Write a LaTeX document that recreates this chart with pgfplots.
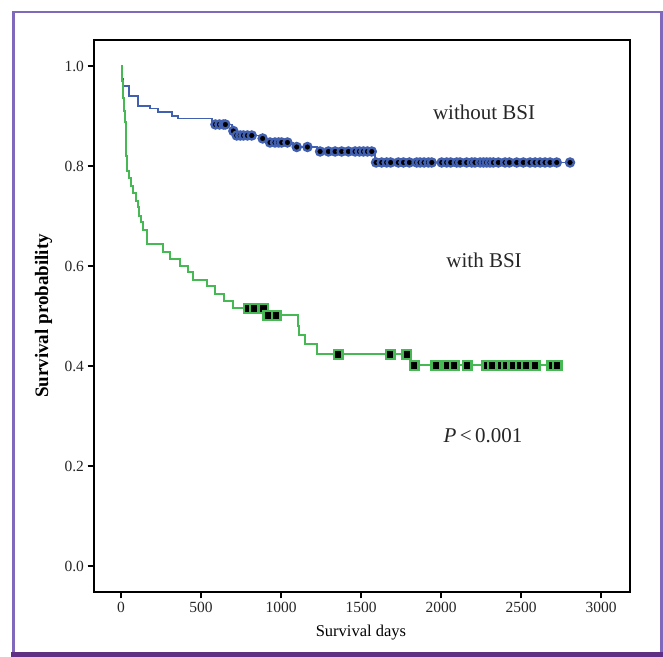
\documentclass[border=0pt]{standalone}
\usepackage{pgfplots}
\pgfplotsset{compat=1.18}
\usepackage{fontspec}
\setmainfont{Liberation Serif}
\definecolor{kmblue}{RGB}{66,96,176}
\definecolor{kmgreen}{RGB}{70,185,85}
\definecolor{frameL}{RGB}{128,104,186}
\definecolor{frameD}{RGB}{94,47,130}

\begin{document}
\begin{tikzpicture}[x=1bp,y=1bp]
\useasboundingbox (0,0) rectangle (663,657);
% outer frame
\fill[frameD] (11,0) rectangle (663,5);
\draw[frameL, line width=2.5bp] (13.5,5) -- (13.5,645) -- (661.5,645) -- (661.5,5);

\begin{axis}[
    at={(94bp,65bp)}, anchor=south west,
    width=536bp, height=552bp, scale only axis,
    xmin=-169, xmax=3181,
    ymin=-0.052, ymax=1.052,
    axis line style={line width=1.6bp},
    tick pos=left, tick align=outside,
    major tick length=6.5bp,
    every tick/.style={black, line width=1.6bp},
    xtick={0,500,1000,1500,2000,2500,3000},
    ytick={0,0.2,0.4,0.6,0.8,1.0},
    yticklabel style={/pgf/number format/.cd, fixed, fixed zerofill, precision=1},
    /pgf/number format/assume math mode=true,
    scaled x ticks=false,
    xticklabel style={/pgf/number format/1000 sep={}},
    tick label style={font=\fontsize{15.5bp}{18bp}\selectfont, text=black!85},
    xlabel={Survival days},
    ylabel={\textbf{Survival probability}},
    xlabel style={at={(axis description cs:0.498,-0.074)}, anchor=center,
        font=\fontsize{16.5bp}{19bp}\selectfont},
    ylabel style={at={(axis description cs:-0.094,0.5)}, anchor=center, rotate=0,
        font=\fontsize{19bp}{22bp}\selectfont},
    clip=false,
]
% without BSI
\addplot[const plot, kmblue, line width=1.8bp] coordinates {
(0,1.0) (5,0.975) (15,0.96) (52,0.94) (108,0.92) (181,0.915) (233,0.908)
(317,0.900) (358,0.895) (567,0.883) (692,0.870) (712,0.861) (879,0.855)
(942,0.847) (1077,0.838) (1223,0.829) (1588,0.807) (2806,0.807)
};
\addplot[only marks, mark=*, mark size=4bp,
    mark options={fill=black, draw=kmblue, line width=2.4bp}] coordinates {
(590,0.883) (615,0.883) (640,0.883) (652,0.883)
(702,0.870)
(723,0.861) (745,0.861) (765,0.861) (790,0.861) (817,0.861)
(885,0.855)
(931,0.847) (962,0.847) (985,0.847) (1004,0.847) (1040,0.847)
(1098,0.838) (1165,0.838)
(1244,0.829) (1296,0.829) (1338,0.829) (1379,0.829) (1421,0.829) (1463,0.829)
(1490,0.829) (1515,0.829) (1540,0.829) (1567,0.829)
(1594,0.807) (1629,0.807) (1660,0.807) (1685,0.807) (1733,0.807) (1765,0.807)
(1802,0.807) (1848,0.807) (1869,0.807) (1894,0.807) (1921,0.807) (1942,0.807)
(2004,0.807) (2035,0.807) (2060,0.807) (2098,0.807) (2119,0.807) (2160,0.807)
(2192,0.807) (2212,0.807) (2244,0.807) (2265,0.807) (2285,0.807) (2306,0.807)
(2327,0.807) (2358,0.807) (2400,0.807) (2427,0.807) (2473,0.807) (2514,0.807)
(2556,0.807) (2588,0.807) (2619,0.807) (2650,0.807) (2681,0.807) (2723,0.807)
(2806,0.807)
};
% with BSI
\addplot[const plot, kmgreen, line width=2bp] coordinates {
(0,1.0) (4,0.97) (10,0.95) (15,0.935) (20,0.91) (25,0.888) (28,0.85)
(32,0.82) (36,0.79) (52,0.775) (65,0.76) (77,0.745) (95,0.73) (108,0.717)
(115,0.70) (123,0.687) (140,0.672) (160,0.644) (265,0.628) (306,0.614)
(369,0.600) (421,0.587) (452,0.572) (535,0.559) (588,0.544) (644,0.530)
(702,0.515) (900,0.501) (1108,0.480) (1112,0.462) (1150,0.443) (1223,0.423)
(1806,0.401) (2740,0.401)
};
\addplot[only marks, mark=square*, mark size=4.3bp,
    mark options={fill=black, draw=kmgreen, line width=2.4bp}] coordinates {
(796,0.515) (833,0.515) (890,0.515)
(917,0.501) (969,0.501)
(1358,0.423) (1681,0.423) (1785,0.423)
(1831,0.401) (1967,0.401) (2035,0.401) (2081,0.401) (2164,0.401) (2285,0.401)
(2320,0.401) (2373,0.401) (2406,0.401) (2448,0.401) (2494,0.401) (2531,0.401)
(2588,0.401) (2692,0.401) (2727,0.401)
};
\node[font=\fontsize{21bp}{25bp}\selectfont, text=black!85] at (axis cs:2269,0.908) {without BSI};
\node[font=\fontsize{21bp}{25bp}\selectfont, text=black!85] at (axis cs:2269,0.612) {with BSI};
\node[font=\fontsize{21bp}{25bp}\selectfont, text=black!85] at (axis cs:2262,0.260) {\textit{P}\,<\,0.001};
\end{axis}
\end{tikzpicture}
\end{document}
